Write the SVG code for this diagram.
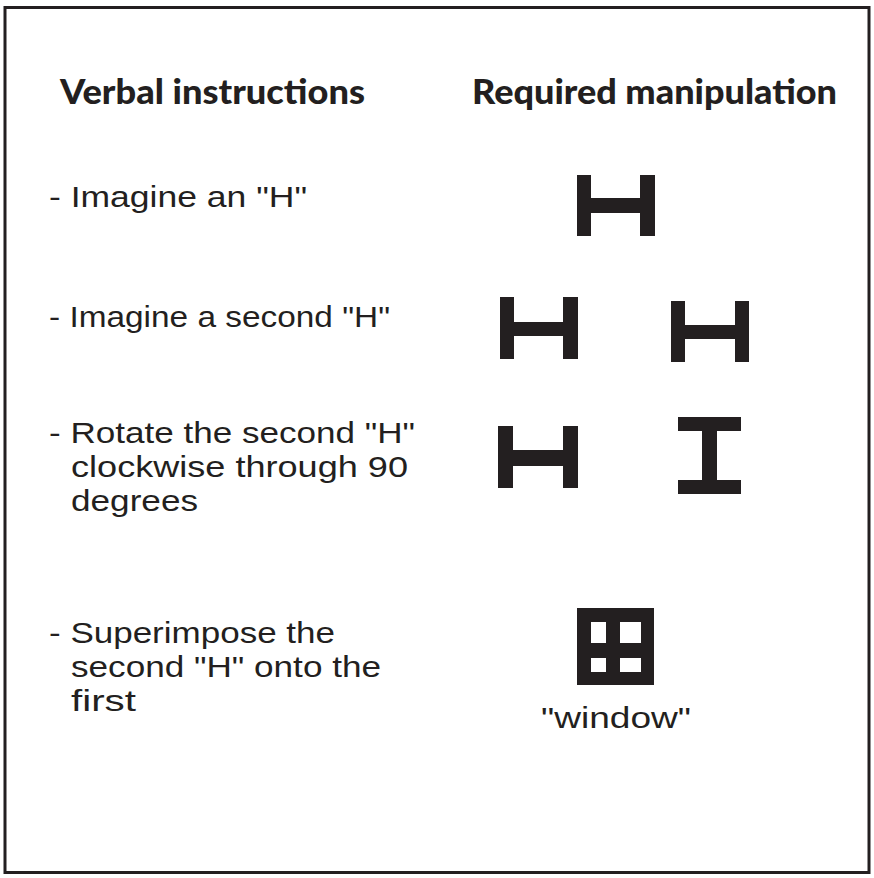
<svg xmlns="http://www.w3.org/2000/svg" width="874" height="878" viewBox="0 0 874 878">
  <style>
    .hdr { font-family: "Lato", "DejaVu Sans", sans-serif; font-weight: 900; font-size: 34px; fill: #231f20; }
    .txt { font-family: "Liberation Sans", Arial, sans-serif; font-size: 30px; fill: #231f20; }
    .shape { fill: #231f20; }
  </style>
  <rect x="0" y="0" width="874" height="878" fill="#ffffff"/>
  <rect id="frame" x="5" y="7.5" width="864" height="865" fill="none" stroke="#231f20" stroke-width="3"/>

  <g id="headers">
    <text class="hdr" x="60" y="104" textLength="305" lengthAdjust="spacingAndGlyphs">Verbal instructions</text>
    <text class="hdr" x="472" y="104" textLength="365" lengthAdjust="spacingAndGlyphs">Required manipulation</text>
  </g>

  <g id="step1">
    <text class="txt" x="49" y="207" textLength="258" lengthAdjust="spacingAndGlyphs">- Imagine an "H"</text>
    <path class="shape" d="M577,175 H591 V198 H640 V175 H655 V236 H640 V213 H591 V236 H577 Z"/>
  </g>

  <g id="step2">
    <text class="txt" x="49" y="327" textLength="341" lengthAdjust="spacingAndGlyphs">- Imagine a second "H"</text>
    <path class="shape" d="M500,297 H514 V322 H563 V297 H578 V359 H563 V336 H514 V359 H500 Z"/>
    <path class="shape" d="M671,301 H685 V325 H735 V301 H749 V362 H735 V339 H685 V362 H671 Z"/>
  </g>

  <g id="step3">
    <text class="txt" x="49" y="443" textLength="366" lengthAdjust="spacingAndGlyphs">- Rotate the second "H"</text>
    <text class="txt" x="71" y="477" textLength="337" lengthAdjust="spacingAndGlyphs">clockwise through 90</text>
    <text class="txt" x="71" y="511" textLength="127" lengthAdjust="spacingAndGlyphs">degrees</text>
    <path class="shape" d="M498,426 H513 V450 H563 V426 H578 V488 H563 V466 H513 V488 H498 Z"/>
    <path class="shape" d="M678,417 H741 V431 H717 V480 H741 V494 H678 V480 H702 V431 H678 Z"/>
  </g>

  <g id="step4">
    <text class="txt" x="49" y="643" textLength="286" lengthAdjust="spacingAndGlyphs">- Superimpose the</text>
    <text class="txt" x="71" y="677" textLength="310" lengthAdjust="spacingAndGlyphs">second "H" onto the</text>
    <text class="txt" x="71" y="711" textLength="65" lengthAdjust="spacingAndGlyphs">first</text>
    <path class="shape" fill-rule="evenodd" d="M577,608 H654 V685 H577 Z M591,622 H606 V643 H591 Z M620,622 H641 V643 H620 Z M591,658 H606 V672 H591 Z M620,658 H641 V672 H620 Z"/>
    <text class="txt" x="616" y="728" text-anchor="middle" textLength="150" lengthAdjust="spacingAndGlyphs">"window"</text>
  </g>
</svg>
